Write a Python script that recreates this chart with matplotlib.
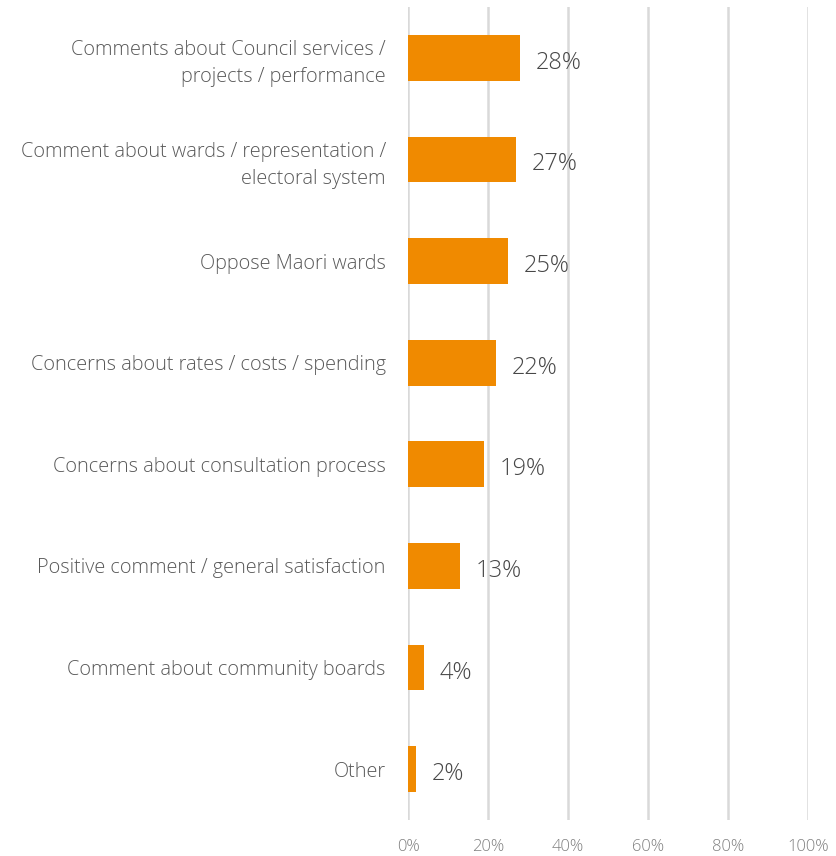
import matplotlib
matplotlib.use("Agg")
import matplotlib.pyplot as plt
import numpy as np

categories = [
    "Comments about Council services /\nprojects / performance",
    "Comment about wards / representation /\nelectoral system",
    "Oppose Maori wards",
    "Concerns about rates / costs / spending",
    "Concerns about consultation process",
    "Positive comment / general satisfaction",
    "Comment about community boards",
    "Other",
]
values = [28, 27, 25, 22, 19, 13, 4, 2]
xticks = [0, 20, 40, 60, 80, 100]

orange = "#F08A00"
grey_text = "#595959"
grid_col = "#D9D9D9"

plt.rcParams["font.family"] = ["Open Sans", "DejaVu Sans"]

fig = plt.figure(figsize=(8.36, 8.56), dpi=100)
ax = fig.add_axes([408 / 836, 1 - 820 / 856, 400 / 836, 813 / 856])

y = np.arange(len(categories))
ax.barh(y, values, height=0.45, color=orange, zorder=3)
ax.set_ylim(len(categories) - 0.5, -0.5)
ax.set_xlim(0, 100)

# value labels just right of each bar
for yi, v in zip(y, values):
    ax.annotate(f"{v}%", (v, yi), xytext=(16, -5), textcoords="offset pixels",
                va="center", ha="left", fontsize=17, color="#474747",
                fontweight="light")

ax.set_yticks(y)
ax.set_yticklabels(categories, fontsize=14.3, color=grey_text,
                   fontweight="light", linespacing=1.45)
ax.set_xticks(xticks)
ax.set_xticklabels([f"{t}%" for t in xticks], fontsize=12, color="#808080",
                   fontweight="light")
ax.tick_params(axis="both", length=0)
ax.tick_params(axis="y", pad=16)
ax.tick_params(axis="x", pad=14)

ax.grid(axis="x", color=grid_col, linewidth=1.8, zorder=0)
for s in ax.spines.values():
    s.set_visible(False)

fig.savefig("out.png", dpi=100, facecolor="white")
